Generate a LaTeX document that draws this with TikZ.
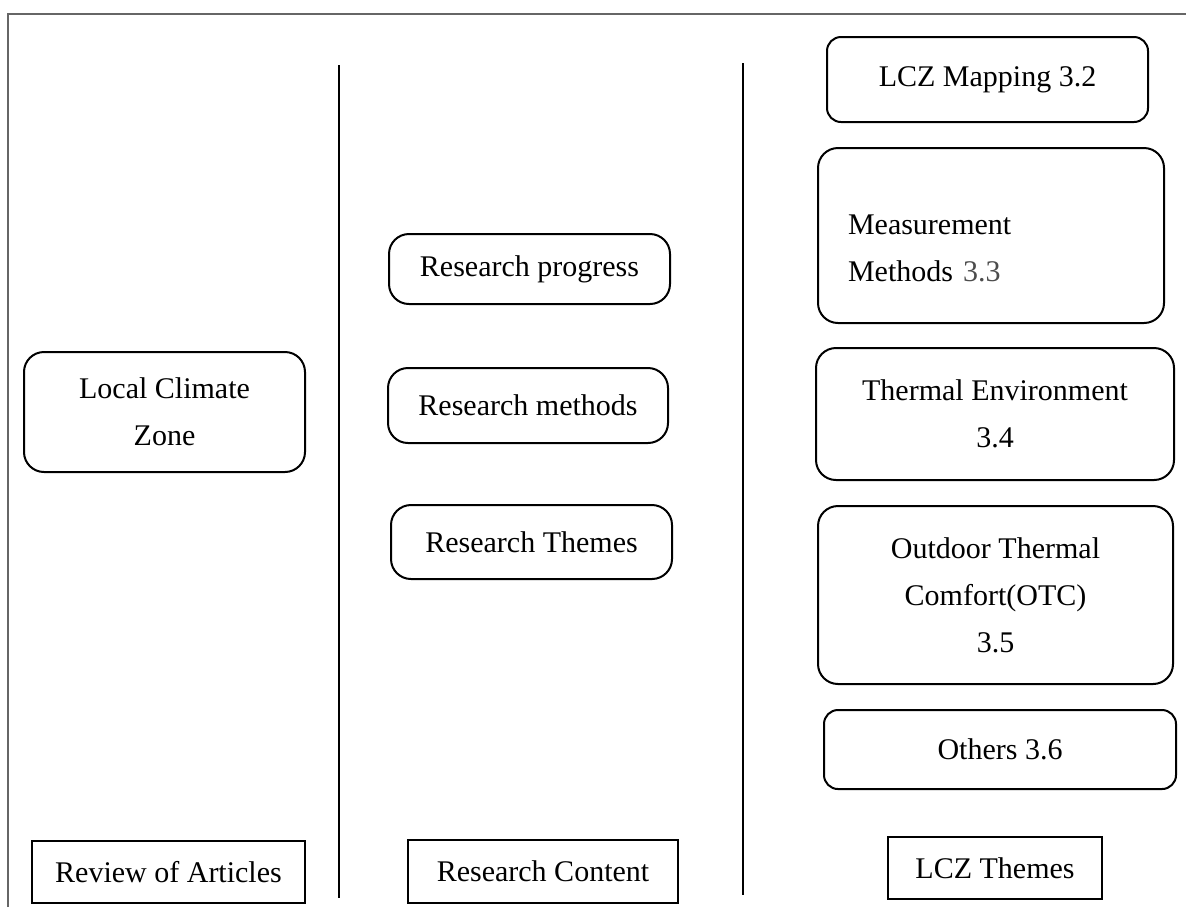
\documentclass[tikz,border=0pt]{standalone}
\usepackage{fontspec}
\setmainfont{Liberation Serif}
\usepackage{xcolor}
\usepackage{tikz}
\usetikzlibrary{positioning}

\begin{document}
\begin{tikzpicture}[x=0.5pt, y=-0.5pt,
  font=\fontsize{15}{23.5}\selectfont,
  rbox/.style={draw, line width=1pt, rounded corners=10pt, align=center},
  sbox/.style={draw, line width=1pt, align=center}]
\useasboundingbox (0,0) rectangle (1186,907);
% ================= frame and dividers =================
\draw[line width=1pt, black!60] (8,907) -- (8,14) -- (1186,14);
\draw[line width=0.8pt] (339,65) -- (339,898);
\draw[line width=0.8pt] (743,63) -- (743,895);
% ================= column 1: review of articles =================
\node[rbox, minimum width=140.5pt, minimum height=60pt] (lcz) at (164.5,412)
  {Local Climate\\ Zone};
\node[sbox, minimum width=136.5pt, minimum height=31pt] (review) at (168.5,872)
  {Review of Articles};
% ================= column 2: research content =================
\node[rbox, minimum width=140.5pt, minimum height=35pt] (progress) at (529.5,269)
  {Research progress};
\node[rbox, minimum width=140pt, minimum height=37.5pt] (methods) at (528,405.5)
  {Research methods};
\node[rbox, minimum width=140.5pt, minimum height=37pt] (themes) at (531.5,542)
  {Research Themes};
\node[sbox, minimum width=135pt, minimum height=31.5pt] (content) at (543,871.5)
  {Research Content};
% ================= column 3: LCZ themes =================
\node[rbox, rounded corners=7pt, minimum width=160.5pt, minimum height=42.5pt]
  (mapping) at (987.5,79.5) {LCZ Mapping 3.2};
\node[rbox, align=left, inner xsep=15pt, text width=143pt,
  minimum height=87.5pt] (measure) at (991,235.5)
  {\rule{0pt}{23pt}Measurement\\ Methods {\color{black!70}3.3}};
\node[rbox, minimum width=179pt, minimum height=66pt] (thermal) at (995,414)
  {Thermal Environment\\ 3.4};
\node[rbox, minimum width=177.5pt, minimum height=89pt] (otc) at (995.5,595)
  {Outdoor Thermal\\ Comfort(OTC)\\ 3.5};
\node[rbox, rounded corners=7pt, minimum width=176pt, minimum height=39.5pt]
  (others) at (1000,749.5) {Others 3.6};
\node[sbox, minimum width=107pt, minimum height=31pt] (lczthemes) at (995,868)
  {LCZ Themes};
\end{tikzpicture}
\end{document}
